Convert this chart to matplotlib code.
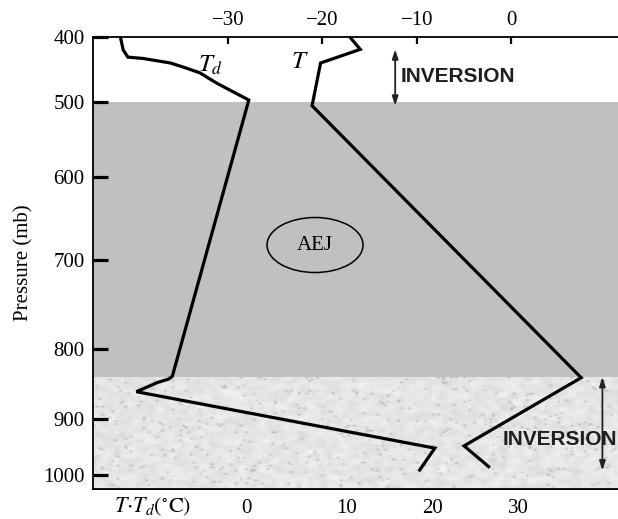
import numpy as np
import matplotlib
matplotlib.use("Agg")
import matplotlib.pyplot as plt
from matplotlib.patches import Ellipse

plt.rcParams["font.family"] = ["Liberation Serif", "DejaVu Serif"]
plt.rcParams["mathtext.fontset"] = "stix"

# temperature profile (deg C) against pressure (mb)
t_temp = [-17.1, -16.0, -20.2, -21.1, 7.4, -5.0, -2.4]
t_pres = [400, 419, 440, 505, 841, 948, 985]

# dew point profile
td_temp = [-41.4, -41.1, -40.6, -39.0, -36.1, -34.8, -33.0, -31.2, -27.8,
           -35.9, -36.3, -37.5, -39.7, -8.1, -9.7]
td_pres = [400, 420, 431, 433, 440, 446, 455, 471, 497,
           839, 843, 848, 861, 952, 991]

temp_ticks = [-30, -20, -10, 0]
pres_ticks = [400, 500, 600, 700, 800, 900, 1000]
diff_ticks = [0, 10, 20, 30]

# layers
jet_layer = (500, 840)
low_layer = (840, 1025)

# the pressure axis is not evenly spaced in the sounding diagram,
# so map it piecewise onto the vertical
p_knots = [300, 400, 500, 600, 700, 800, 900, 1000, 1100]
p_rows = [-28, 37, 102, 176.7, 260, 349, 419, 475, 531]


def p_fwd(p):
    return np.interp(p, p_knots, p_rows)


def p_inv(r):
    return np.interp(r, p_rows, p_knots)


# T-Td scale on the bottom, placed under the temperature scale
d_knots_t = [-60, -28.0, -17.4, -8.3, 0.8, 30]
d_knots_d = [-30.2, 0, 10, 20, 30, 62.1]


def t_to_d(t):
    return np.interp(t, d_knots_t, d_knots_d)


def d_to_t(d):
    return np.interp(d, d_knots_d, d_knots_t)


fig = plt.figure(figsize=(6.18, 5.19), dpi=100)
ax = fig.add_axes([0.1505, 0.0578, 0.8495, 0.8709])

ax.set_yscale("function", functions=(p_fwd, p_inv))
ax.set_xlim(-44.3, 11.3)
ax.set_ylim(1025, 400)

# shaded layers
ax.axhspan(*jet_layer, color="#c0c0c0", lw=0, zorder=0)
ax.axhspan(*low_layer, color="#e6e6e6", lw=0, zorder=0)

# grainy texture on the lowest layer
rng = np.random.default_rng(7)
grain = rng.normal(size=(70, 200))
k = np.ones(3) / 3
grain = np.apply_along_axis(lambda r: np.convolve(r, k, mode="same"), 1, grain)
grain = np.apply_along_axis(lambda c: np.convolve(c, k, mode="same"), 0, grain)
specks = rng.random((70, 200)) > 0.97
tex = 0.90 + 0.05 * grain - 0.16 * specks
fig.canvas.draw()
y_top = ax.transAxes.inverted().transform(ax.transData.transform((0, low_layer[0])))[1]
ax.imshow(np.clip(tex, 0, 1), cmap="gray", vmin=0, vmax=1, aspect="auto",
          interpolation="bilinear", extent=[0, 1, 0, y_top],
          transform=ax.transAxes, zorder=0.5)
ax.set_xlim(-44.3, 11.3)
ax.set_ylim(1025, 400)

ax.plot(t_temp, t_pres, color="black", lw=2.3, solid_joinstyle="miter", zorder=3)
ax.plot(td_temp, td_pres, color="black", lw=2.3, solid_joinstyle="miter", zorder=3)

ax.text(-31.9, 443, r"$T_d$", fontsize=18, ha="center", va="center")
ax.text(-22.4, 438, r"$T$", fontsize=18, ha="center", va="center")

# inversion markers
arrow = dict(arrowstyle="<|-|>,head_length=0.55,head_width=0.18",
             color="#222222", lw=1.3, shrinkA=0, shrinkB=0)
ax.annotate("", xy=(-12.3, 419), xytext=(-12.3, 505), arrowprops=arrow)
ax.annotate("", xy=(9.65, 840), xytext=(9.65, 992), arrowprops=arrow, zorder=4)
ax.text(-11.7, 461, "INVERSION", family="Liberation Sans", weight="bold",
        fontsize=15, color="#1e1e1e", ha="left", va="center")
ax.text(-0.95, 937, "INVERSION", family="Liberation Sans", weight="bold",
        fontsize=15, color="#1e1e1e", ha="left", va="center", zorder=3.5)

# African easterly jet
ax.add_patch(Ellipse((0.4229, 0.5398), 0.1829, 0.1217, transform=ax.transAxes,
                     fc="none", ec="black", lw=1.1, zorder=3))
ax.text(0.4229, 0.5398, "AEJ", transform=ax.transAxes, fontsize=15,
        ha="center", va="center")

# axes
ax.xaxis.tick_top()
ax.set_xticks(temp_ticks)
ax.set_yticks(pres_ticks)
ax.set_yticklabels([str(p) for p in pres_ticks])
ax.yaxis.set_minor_locator(plt.NullLocator())
ax.tick_params(axis="x", direction="in", length=5, width=1.6, pad=5, labelsize=15)
ax.tick_params(axis="y", direction="in", length=11, width=2.3, pad=6, labelsize=15)
ax.set_ylabel("Pressure (mb)", fontsize=15, labelpad=7)

for side in ("top", "left", "bottom"):
    ax.spines[side].set_linewidth(1.3)
ax.spines["right"].set_visible(False)

bot = ax.secondary_xaxis("bottom", functions=(t_to_d, d_to_t))
bot.set_xticks(diff_ticks)
bot.tick_params(direction="in", length=7, width=1.8, pad=7, labelsize=15)
bot.spines["bottom"].set_linewidth(1.3)

fig.text(153 / 618, 1 - 507 / 519, r"$T{\cdot}T_d(^{\circ}\mathrm{C})$",
         fontsize=16, ha="center", va="center")

fig.savefig("out.png", dpi=100)
